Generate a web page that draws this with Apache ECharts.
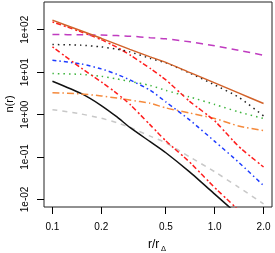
<!DOCTYPE html>
<html><head><meta charset="utf-8">
<script src="https://cdn.jsdelivr.net/npm/echarts@6/dist/echarts.min.js"></script>
<style>html,body{margin:0;padding:0;background:#fff}#c{width:275px;height:253px}</style>
</head><body><div id="c"></div>
<script>
// r / r_Delta sample points
const radius = [0.1, 0.15, 0.2, 0.25, 0.3, 0.4, 0.5, 0.7, 1.0, 1.4, 2.0];
// n(r) profiles
const orangeSolid = [169, 94.7, 63, 45.4, 34.6, 23.0, 17.1, 9.9, 5.6, 3.25, 1.83];
const blackDotted = [45, 43.5, 39.6, 35, 30.2, 21.2, 16.6, 9.6, 5.0, 2.6, 0.93];
const purpleDashed = [77.4, 76.6, 75, 73, 71, 65.3, 61.3, 52, 41.9, 32.8, 25.2];
const redTwoDashA = [154, 89.6, 58.6, 38.6, 25.7, 12.3, 6.6, 2.06, 0.71, 0.18, 0.058];
const redTwoDashB = [39.6, 12.6, 5.9, 3.14, 1.75, 0.573, 0.24, 0.076, 0.019, 0.0056, 0.0014];
const blueDotDash = [19.2, 15.7, 12.0, 8.9, 6.6, 3.76, 1.99, 0.75, 0.234, 0.076, 0.0212];
const greenDotted = [9.3, 8.9, 8.0, 6.95, 6.07, 4.88, 3.72, 2.61, 1.74, 1.16, 0.81];
const orangeDotDash = [3.30, 3.07, 2.76, 2.45, 2.2, 1.85, 1.44, 1.09, 0.81, 0.54, 0.42];
const blackSolid = [6.14, 3.16, 1.64, 0.88, 0.5, 0.23, 0.126, 0.0445, 0.0133, 0.00425, 0.00122];
const grayDashed = [1.31, 1.036, 0.82, 0.642, 0.502, 0.31, 0.216, 0.101, 0.0449, 0.0195, 0.00787];

const xTicks = [0.1, 0.2, 0.5, 1.0, 2.0];
const xTickLabels = ['0.1', '0.2', '0.5', '1.0', '2.0'];
const yTicks = [0.01, 0.1, 1, 10, 100];
const yTickLabels = ['1e-02', '1e-01', '1e+00', '1e+01', '1e+02'];
const xLim = [0.1, 2.0];
const yLim = [0.01, 300];

const L = Math.log10;
function padRange(lim) {
  const a = L(lim[0]), b = L(lim[1]), d = (b - a) * 0.04;
  return [a - d, b + d];
}
const xr = padRange(xLim), yr = padRange(yLim);
function nearestLabel(v, ticks, labels) {
  let best = 0, bd = 1e9;
  ticks.forEach((t, i) => { const d = Math.abs(L(t) - v); if (d < bd) { bd = d; best = i; } });
  return labels[best];
}
function mk(vals, color, type, width) {
  return {
    type: 'line', showSymbol: false, smooth: 0.2, clip: true, silent: true,
    data: radius.map((r, i) => [L(r), L(vals[i])]),
    lineStyle: { color: color, type: type, width: width || 1.5, cap: 'butt' }
  };
}
// plot box layout (px)
const W = 275, H = 253, GL = 44, GR = 3, GT = 2, GB = 46, TICK = 7;
const PW = W - GL - GR, PH = H - GT - GB;
// linear maps of the axes' own (log10) ranges onto the plot box, used for the outer tick marks
const mapX = v => GL + (v - xr[0]) / (xr[1] - xr[0]) * PW;
const mapY = v => GT + (yr[1] - v) / (yr[1] - yr[0]) * PH;
const tickRects = [];
xTicks.forEach(t => tickRects.push({
  type: 'rect', z: 50, silent: true,
  shape: { x: Math.floor(mapX(L(t))), y: GT + PH, width: 1, height: TICK },
  style: { fill: '#000' }
}));
yTicks.forEach(t => tickRects.push({
  type: 'rect', z: 50, silent: true,
  shape: { x: GL - TICK, y: Math.floor(mapY(L(t))), width: TICK, height: 1 },
  style: { fill: '#000' }
}));

const font = 'Liberation Sans';
const chart = echarts.init(document.getElementById('c'), null, { renderer: 'canvas' });
chart.setOption({
  animation: false,
  backgroundColor: '#fff',
  grid: { left: GL, right: GR, top: GT, bottom: GB, show: true, borderColor: '#222', borderWidth: 1, backgroundColor: 'transparent' },
  xAxis: {
    type: 'value', min: xr[0], max: xr[1],
    axisLine: { show: false, onZero: false },
    splitLine: { show: false },
    axisTick: { show: false },
    axisLabel: { customValues: xTicks.map(L), margin: 15, color: '#000', fontSize: 10, fontFamily: font,
      formatter: v => nearestLabel(v, xTicks, xTickLabels) }
  },
  yAxis: {
    type: 'value', min: yr[0], max: yr[1],
    axisLine: { show: false, onZero: false },
    splitLine: { show: false },
    axisTick: { show: false },
    axisLabel: { customValues: yTicks.map(L), margin: 14, rotate: 90, color: '#000', fontSize: 10, fontFamily: font,
      formatter: v => nearestLabel(v, yTicks, yTickLabels) }
  },
  graphic: [
    { type: 'text', x: 10, y: 104, rotation: Math.PI / 2, style: { text: 'n(r)', fontSize: 11, fontFamily: font, fill: '#000', align: 'center', verticalAlign: 'middle' } },
    { type: 'text', x: 148, y: 245, style: { text: 'r/r', fontSize: 12, fontFamily: font, fill: '#000', align: 'left', verticalAlign: 'middle' } },
    { type: 'text', x: 161, y: 249, style: { text: 'Δ', fontSize: 7.5, fontFamily: font, fill: '#000', align: 'left', verticalAlign: 'middle' } }
  ].concat(tickRects),
  series: [
    mk(grayDashed, '#c8c8c8', [5, 5]),
    mk(blackSolid, '#111', 'solid'),
    mk(orangeDotDash, '#f58a3c', [7, 3, 1.5, 3]),
    mk(greenDotted, '#3cb43c', [1.5, 4]),
    mk(blueDotDash, '#1e3cff', [4, 3, 1.5, 3]),
    mk(redTwoDashB, '#ff1e1e', [2, 2, 5, 3]),
    mk(redTwoDashA, '#ff1e1e', [2, 2, 5, 3]),
    mk(purpleDashed, '#c03cc0', [7, 5]),
    mk(blackDotted, '#222', [1.5, 4]),
    mk(orangeSolid, '#d2622a', 'solid')
  ]
});
</script></body></html>
